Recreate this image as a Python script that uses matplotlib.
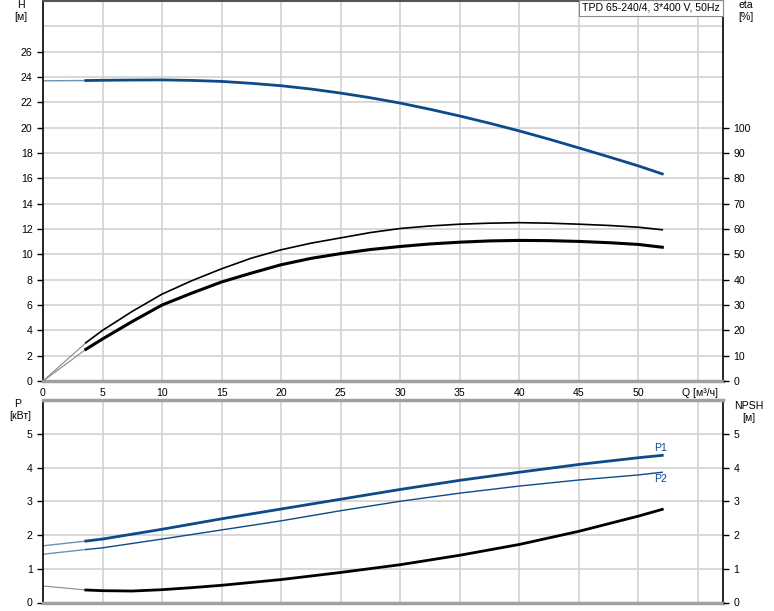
import numpy as np
import matplotlib.pyplot as plt

plt.rcParams["font.family"] = ["Liberation Sans", "DejaVu Sans"]

# ---- data ----
Q_lead = [0, 3.6]
H_lead = [23.7, 23.72]
Q_h = [3.6, 5, 7.5, 10, 12.5, 15, 17.5, 20, 22.5, 25, 27.5, 30, 32.5, 35,
       37.5, 40, 42.5, 45, 47.5, 50, 52]
H_h = [23.72, 23.74, 23.76, 23.77, 23.73, 23.65, 23.5, 23.31, 23.05, 22.73,
       22.36, 21.94, 21.45, 20.92, 20.35, 19.74, 19.09, 18.4, 17.7, 16.98, 16.35]

Q_eta = [3.6, 5, 7.5, 10, 12.5, 15, 17.5, 20, 22.5, 25, 27.5, 30, 32.5, 35,
         37.5, 40, 42.5, 45, 47.5, 50, 52]
eta_total = [15.1, 20.0, 27.5, 34.3, 39.6, 44.3, 48.5, 51.8, 54.4, 56.5,
             58.6, 60.2, 61.2, 61.9, 62.3, 62.5, 62.3, 61.9, 61.4, 60.7, 59.7]
eta_pump = [12.5, 16.6, 23.5, 30.0, 34.7, 39.1, 42.6, 45.9, 48.4, 50.3,
            51.9, 53.1, 54.1, 54.8, 55.3, 55.5, 55.4, 55.1, 54.6, 53.9, 52.8]
eta_total_lead = [0, 15.1]
eta_pump_lead = [0, 12.5]

Q_p = [3.6, 5, 10, 15, 20, 25, 30, 35, 40, 45, 50, 52]
P1 = [1.82, 1.88, 2.17, 2.48, 2.77, 3.06, 3.35, 3.62, 3.86, 4.09, 4.29, 4.36]
P2 = [1.57, 1.62, 1.88, 2.15, 2.42, 2.72, 3.00, 3.24, 3.45, 3.63, 3.78, 3.86]
P1_lead = [1.68, 1.82]
P2_lead = [1.43, 1.57]

Q_npsh = [3.6, 5, 7.5, 10, 12.5, 15, 20, 25, 30, 35, 40, 45, 50, 52]
npsh = [0.37, 0.35, 0.34, 0.38, 0.44, 0.51, 0.68, 0.89, 1.12, 1.40, 1.72,
        2.11, 2.56, 2.76]
npsh_lead = [0.49, 0.37]

x_ticks = [0, 5, 10, 15, 20, 25, 30, 35, 40, 45, 50]
H_ticks = [0, 2, 4, 6, 8, 10, 12, 14, 16, 18, 20, 22, 24, 26]
eta_ticks = [0, 10, 20, 30, 40, 50, 60, 70, 80, 90, 100]
P_ticks = [0, 1, 2, 3, 4, 5]

BLUE = "#0c4a8a"
GRID = "#d2d2d2"
FS = 7.6

fig = plt.figure(figsize=(7.74, 6.11), dpi=100)
ax = fig.add_axes([43/774, 1 - 381/611, 680/774, 380/611])
axb = fig.add_axes([43/774, 1 - 602.5/611, 680/774, 202.5/611])


def style(a, ymax, grid_step):
    a.set_xlim(0, 57.1)
    a.set_ylim(0, ymax)
    for x in np.arange(5, 57, 5):
        a.axvline(x, color=GRID, lw=1.2, zorder=0)
    for y in np.arange(grid_step, ymax, grid_step):
        a.axhline(y, color=GRID, lw=1.2, zorder=0)
    for s in ("left", "right"):
        a.spines[s].set_color("black")
        a.spines[s].set_linewidth(1.2)
    for s in ("top", "bottom"):
        a.spines[s].set_color("#a0a0a0")
        a.spines[s].set_linewidth(2.5)
    a.tick_params(axis="y", labelsize=FS, length=4, width=1, direction="out")


def right_axis(a, ymax, ticks):
    r = a.twinx()
    r.set_ylim(0, ymax)
    r.set_yticks(ticks)
    r.tick_params(axis="y", labelsize=FS, length=4, width=1, direction="out")
    for s in r.spines.values():
        s.set_visible(False)
    return r


# ---- top: head + efficiency ----
style(ax, 30, 2)
ax.set_yticks(H_ticks)
ax.set_xticks(x_ticks)
ax.tick_params(axis="x", labelsize=FS, length=0, pad=5)
ax.spines["top"].set_color("#555555")
ax.spines["top"].set_linewidth(1.5)
ax.plot(Q_lead, H_lead, color=BLUE, lw=1, alpha=0.6)
ax.plot(Q_h, H_h, color=BLUE, lw=2)

ax2 = right_axis(ax, 150, eta_ticks)
ax2.plot(Q_lead, eta_total_lead, color="#888888", lw=0.8)
ax2.plot(Q_lead, eta_pump_lead, color="#888888", lw=0.8)
ax2.plot(Q_eta, eta_total, color="black", lw=1.2)
ax2.plot(Q_eta, eta_pump, color="black", lw=2.2)

fig.text(718/774, 1 - 393/611, "Q [м³/ч]", fontsize=FS, ha="right", va="center")
fig.text(21/774, 1 - 5/611, "H", fontsize=FS, ha="center", va="center")
fig.text(21/774, 1 - 17/611, "[м]", fontsize=FS, ha="center", va="center")
fig.text(746/774, 1 - 5/611, "eta", fontsize=FS, ha="center", va="center")
fig.text(746/774, 1 - 17/611, "[%]", fontsize=FS, ha="center", va="center")
fig.text(651/774, 1 - 8/611, "TPD 65-240/4, 3*400 V, 50Hz", fontsize=FS,
         ha="center", va="center",
         bbox=dict(boxstyle="square,pad=0.3", fc="white", ec="#888888", lw=0.8))

# ---- bottom: power + NPSH ----
style(axb, 6, 1)
axb.set_yticks(P_ticks)
axb.set_xticks([])
axb.plot(Q_lead, P1_lead, color=BLUE, lw=1, alpha=0.6)
axb.plot(Q_lead, P2_lead, color=BLUE, lw=1, alpha=0.6)
axb.plot(Q_p, P1, color=BLUE, lw=2)
axb.plot(Q_p, P2, color=BLUE, lw=1)
axb.plot(Q_lead, npsh_lead, color="#888888", lw=0.8)
axb.plot(Q_npsh, npsh, color="black", lw=2)
axb.text(51.3, 4.58, "P1", color=BLUE, fontsize=FS, ha="left", va="center")
axb.text(51.3, 3.66, "P2", color=BLUE, fontsize=FS, ha="left", va="center")

right_axis(axb, 6, P_ticks)

fig.text(18/774, 1 - 404/611, "P", fontsize=FS, ha="center", va="center")
fig.text(20/774, 1 - 416/611, "[кВт]", fontsize=FS, ha="center", va="center")
fig.text(749/774, 1 - 406/611, "NPSH", fontsize=FS, ha="center", va="center")
fig.text(749/774, 1 - 418/611, "[м]", fontsize=FS, ha="center", va="center")

fig.savefig("out.png", dpi=100, facecolor="white")
